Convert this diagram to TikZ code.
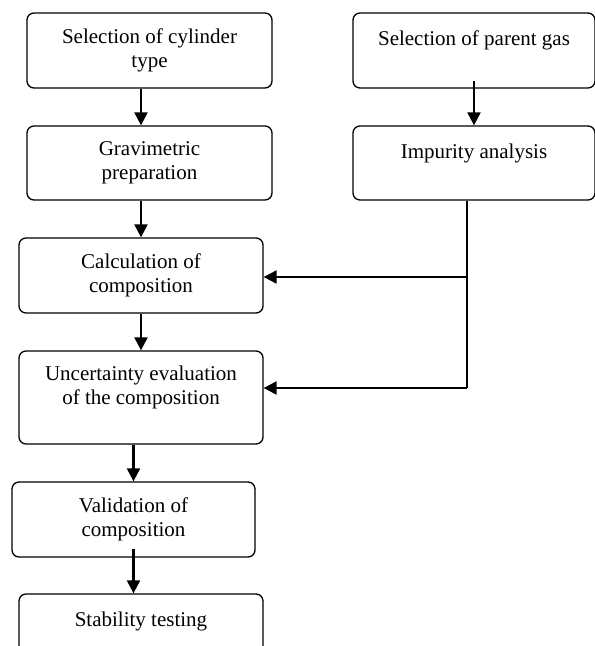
\documentclass[tikz,border=0pt]{standalone}
\usepackage{fontspec}
\setmainfont{Liberation Serif}
\usetikzlibrary{arrows.meta}
\begin{document}
\begin{tikzpicture}[x=1pt, y=-1pt, box/.style = {draw, rounded corners=7pt, line width=1.3pt, align=center, inner sep=0pt, font=\fontsize{21}{24.5}\selectfont}, arr/.style = {line width=2.2pt, -{Triangle[length=13pt, width=13pt]}}]
\useasboundingbox (0,0) rectangle (595,646);
% left column
\node[box, minimum width=245pt, minimum height=75pt] (cyl) at (149.5,50.5) {Selection of cylinder\\type};
\node[box, minimum width=245pt, minimum height=74pt] (grav) at (149.5,163) {Gravimetric\\preparation};
\node[box, minimum width=244pt, minimum height=75pt] (calc) at (141,275.5) {Calculation of\\composition};
\node[box, minimum width=244pt, minimum height=93pt] (unc) at (141,397.5) {Uncertainty evaluation\\of the composition\\\mbox{}};
\node[box, minimum width=243pt, minimum height=75pt] (val) at (133.5,519.5) {Validation of\\composition};
\node[box, minimum width=244pt, minimum height=75pt] (stab) at (141,631.5) {Stability testing\\\mbox{}};
% right column
\node[box, minimum width=242pt, minimum height=75pt] (gas) at (474,50.5) {Selection of parent gas\\\mbox{}};
\node[box, minimum width=242pt, minimum height=74pt] (imp) at (474,163) {Impurity analysis\\\mbox{}};
\coordinate (j1) at (467,277);
\coordinate (j2) at (467,388);
% arrows
\draw[arr] (cyl.south -| calc) -- (grav.north -| calc);
\draw[arr] (grav.south -| calc) -- (calc.north);
\draw[arr] (calc.south) -- (unc.north);
\draw[arr] (unc.south -| val) -- (val.north);
\draw[arr, shorten <=-9pt] (val.south) -- (stab.north -| val);
\draw[arr, shorten <=-8pt] (gas.south) -- (imp.north);
\draw[line width=1.5pt] (imp.south -| j1) -- (j2);
\draw[arr] (j1) -- (j1 -| calc.east);
\draw[arr] (j2) -- (j2 -| unc.east);
\end{tikzpicture}
\end{document}
